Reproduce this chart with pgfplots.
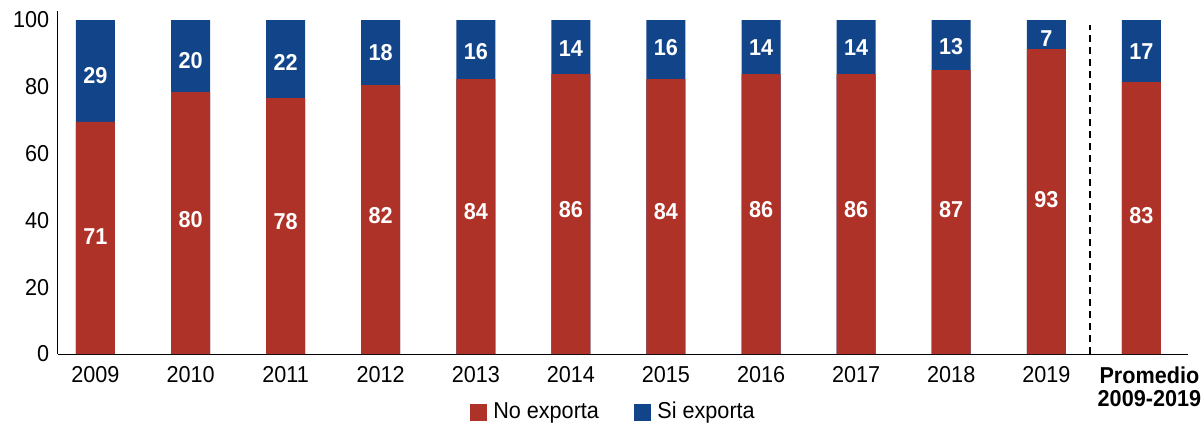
\documentclass[border=0pt]{standalone}
\usepackage{pgfplots}
\pgfplotsset{compat=1.18}
\usepackage{fontspec}
\setmainfont{Liberation Sans}[FakeStretch=0.94]
\definecolor{rojo}{RGB}{175,50,40}
\definecolor{azul}{RGB}{18,68,138}
\begin{document}
\fontsize{23}{26}\selectfont
\begin{tikzpicture}
\begin{axis}[
  scale only axis, width=1130pt, height=343pt,
  xmin=-0.394, xmax=11.49, ymin=0, ymax=102.7,
  axis x line*=bottom, axis y line*=left,
  axis line style={line width=1pt},
  major tick length=0pt,
  ytick={0,20,40,60,80,100},
  xtick={0,1,2,3,4,5,6,7,8,9,10},
  xticklabels={2009,2010,2011,2012,2013,2014,2015,2016,2017,2018,2019},
  extra x ticks={11},
  extra x tick labels={{\textbf{Promedio}\\\textbf{2009-2019}}},
  extra x tick style={xticklabel style={xshift=8pt}},
  tick label style={font=\fontsize{23}{23}\selectfont},
  xticklabel style={align=center, yshift=-5pt},
  yticklabel style={xshift=-1pt},
  /pgf/number format/assume math mode=true,
  legend style={at={(0.491,-0.169)}, anchor=center, draw=none, legend columns=2,
    font=\fontsize{23}{25}\selectfont, column sep=6pt,
    nodes={inner sep=1pt},
    /tikz/every even column/.append style={column sep=34pt}},
  legend image code/.code={\fill[#1] (0pt,-8pt) rectangle (16pt,8pt);},
  nodes near coords style={anchor=center, text=white, font=\bfseries\fontsize{23}{25}\selectfont},
]
\addlegendimage{rojo}
\addlegendentry{No exporta}
\addlegendimage{azul}
\addlegendentry{Si exporta}
% Si exporta (full height, red drawn over)
\addplot[ybar, bar width=0.41, bar shift=0pt, fill=azul, draw=none, forget plot]
  coordinates {(0,100) (1,100) (2,100) (3,100) (4,100) (5,100) (6,100) (7,100) (8,100) (9,100) (10,100) (11,100)};
% No exporta
\addplot[ybar, bar width=0.41, bar shift=0pt, fill=rojo, draw=none, forget plot]
  coordinates {(0,69.5) (1,78.4) (2,76.6) (3,80.5) (4,82.3) (5,83.8) (6,82.3) (7,83.8) (8,83.8) (9,85.0) (10,91.3) (11,81.4)};
% labels No exporta
\addplot[draw=none, mark=none, forget plot, nodes near coords, point meta=explicit symbolic]
  coordinates {(0,35.3)[71] (1,40.1)[80] (2,39.5)[78] (3,41.3)[82] (4,42.5)[84] (5,43.1)[86] (6,42.5)[84] (7,43.1)[86] (8,43.1)[86] (9,43.1)[87] (10,46.1)[93] (11,41.3)[83]};
% labels Si exporta
\addplot[draw=none, mark=none, forget plot, nodes near coords, point meta=explicit symbolic]
  coordinates {(0,83.5)[29] (1,88.0)[20] (2,87.4)[22] (3,90.1)[18] (4,90.4)[16] (5,91.3)[14] (6,91.6)[16] (7,91.6)[14] (8,91.6)[14] (9,91.9)[13] (10,94.3)[7] (11,90.4)[17]};
% separator
\addplot[black, line width=1.2pt, dash pattern=on 7pt off 5pt, forget plot]
  coordinates {(10.46,0) (10.46,98.5)};
\end{axis}
\pgfresetboundingbox
\path[use as bounding box] (current axis.south west) ++(-58pt,-69pt) rectangle ++(1201pt,423pt);
\end{tikzpicture}
\end{document}
